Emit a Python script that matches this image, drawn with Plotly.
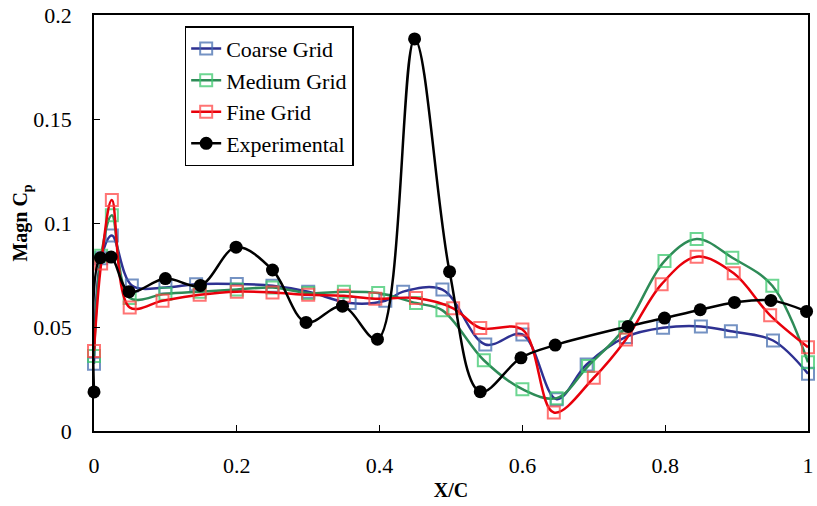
import plotly.graph_objects as go

# Pressure-coefficient magnitude along the chord (X/C)
coarse_x = [0.0, 0.01, 0.025, 0.053, 0.1, 0.143, 0.2, 0.25, 0.3, 0.358, 0.408, 0.433, 0.488, 0.548, 0.6, 0.648, 0.69, 0.745, 0.797, 0.85, 0.892, 0.951, 1.0]
coarse_y = [0.0323, 0.083, 0.094, 0.070, 0.069, 0.0706, 0.0707, 0.0698, 0.067, 0.0615, 0.0626, 0.067, 0.068, 0.0416, 0.0464, 0.0153, 0.032, 0.0452, 0.0496, 0.0503, 0.048, 0.0435, 0.0275]

medium_x = [0.0, 0.01, 0.025, 0.05, 0.1, 0.148, 0.2, 0.25, 0.3, 0.35, 0.398, 0.451, 0.488, 0.546, 0.6, 0.648, 0.692, 0.744, 0.799, 0.844, 0.894, 0.95, 1.0]
medium_y = [0.036, 0.0843, 0.1037, 0.064, 0.066, 0.067, 0.068, 0.069, 0.0663, 0.067, 0.0663, 0.0615, 0.058, 0.034, 0.0201, 0.0158, 0.0312, 0.0497, 0.0817, 0.0923, 0.0833, 0.0698, 0.033]

fine_x = [0.0, 0.01, 0.025, 0.05, 0.096, 0.148, 0.2, 0.25, 0.3, 0.35, 0.394, 0.451, 0.503, 0.541, 0.6, 0.644, 0.70, 0.745, 0.795, 0.844, 0.896, 0.947, 1.0]
fine_y = [0.0385, 0.0805, 0.111, 0.0594, 0.0626, 0.0655, 0.067, 0.0666, 0.0655, 0.065, 0.0636, 0.0639, 0.059, 0.0495, 0.0488, 0.0089, 0.0256, 0.044, 0.0706, 0.0838, 0.0758, 0.0556, 0.0403]

exp_x = [0.0, 0.009, 0.024, 0.049, 0.1, 0.149, 0.199, 0.25, 0.297, 0.348, 0.397, 0.449, 0.498, 0.541, 0.598, 0.646, 0.748, 0.799, 0.849, 0.897, 0.948, 0.998]
exp_y = [0.0188, 0.0833, 0.0836, 0.067, 0.0733, 0.070, 0.0884, 0.0774, 0.0522, 0.060, 0.0441, 0.1885, 0.0766, 0.0189, 0.0352, 0.0413, 0.0503, 0.0543, 0.0583, 0.0618, 0.0628, 0.0575]

x_ticks = [0, 0.2, 0.4, 0.6, 0.8, 1]
x_tick_text = ["0", "0.2", "0.4", "0.6", "0.8", "1"]
y_ticks = [0, 0.05, 0.1, 0.15, 0.2]
y_tick_text = ["0", "0.05", "0.1", "0.15", "0.2"]

SERIF = "Liberation Serif"

fig = go.Figure()

grids = [
    ("Coarse Grid", coarse_x, coarse_y, "#2e3192", "rgba(70,110,175,0.75)"),
    ("Medium Grid", medium_x, medium_y, "#2e8b57", "rgba(60,200,110,0.75)"),
    ("Fine Grid", fine_x, fine_y, "#e8000b", "rgba(255,70,70,0.75)"),
]
for i, (name, xs, ys, line_col, mark_col) in enumerate(grids):
    fig.add_trace(go.Scatter(
        x=xs, y=ys, name=name, mode="lines+markers",
        line=dict(color=line_col, width=2.5, shape="spline", smoothing=1.0),
        marker=dict(symbol="square-open", size=12, color=mark_col,
                    line=dict(color=mark_col, width=2)),
        cliponaxis=False, legendgroup=f"g{i}",
    ))

fig.add_trace(go.Scatter(
    x=exp_x, y=exp_y, name="Experimental", mode="lines+markers",
    line=dict(color="black", width=2.5, shape="spline", smoothing=1.0),
    marker=dict(symbol="circle", size=13, color="black"),
    cliponaxis=False, legendgroup="g3",
))

axis_common = dict(
    showgrid=False, zeroline=False, showline=True, linecolor="black",
    linewidth=1.5, mirror=True, ticks="inside", ticklen=6, tickwidth=1,
    tickcolor="black", tickfont=dict(family=SERIF, size=22, color="black"),
    ticklabeloverflow="allow",
)

fig.update_xaxes(
    range=[0, 1], tickvals=x_ticks, ticktext=x_tick_text,
    ticklabelstandoff=14,
    title=dict(text="<b>X/C</b>", font=dict(family=SERIF, size=20, color="black"), standoff=6),
    **axis_common,
)
fig.update_yaxes(
    range=[0, 0.2], tickvals=y_ticks, ticktext=y_tick_text,
    ticklabelstandoff=16,
    title=dict(text="<b>Magn C<sub>p</sub></b>", font=dict(family=SERIF, size=20, color="black"), standoff=0),
    **axis_common,
)

fig.update_layout(
    width=817, height=506,
    margin=dict(l=94, r=3, t=12, b=75),
    paper_bgcolor="white", plot_bgcolor="white",
    font=dict(family=SERIF, color="black"),
    showlegend=True,
    legend=dict(
        x=0.127, y=0.973, xanchor="left", yanchor="top",
        bgcolor="white", bordercolor="black", borderwidth=1.5,
        font=dict(family=SERIF, size=22, color="black"),
        tracegroupgap=0, itemwidth=30,
    ),
)

fig.write_html("out.html")
